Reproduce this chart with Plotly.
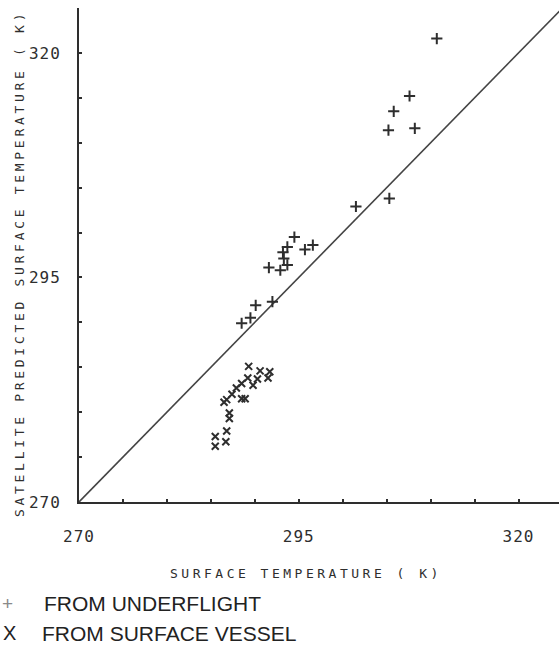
import plotly.graph_objects as go

# ---- data ----
under_x = [310.7, 307.6, 305.8, 305.2, 308.2, 301.5, 305.3, 294.5, 293.7, 293.2,
           293.3, 293.7, 292.9, 291.6, 295.7, 296.6, 290.1, 292.0, 289.5, 288.5]
under_y = [321.6, 315.2, 313.5, 311.4, 311.6, 302.9, 303.8, 299.5, 298.4, 297.8,
           297.1, 296.4, 295.8, 296.1, 298.1, 298.6, 291.9, 292.3, 290.5, 289.9]

vessel_x = [289.3, 289.2, 290.6, 290.3, 291.7, 291.5, 289.8, 288.5, 287.9, 287.4,
            286.8, 286.5, 288.5, 288.9, 287.1, 287.1, 286.8, 286.7, 285.5, 285.5]
vessel_y = [285.1, 283.8, 284.6, 283.7, 284.5, 283.8, 283.0, 283.2, 282.7, 282.0,
            281.4, 281.1, 281.5, 281.5, 279.9, 279.3, 277.9, 276.7, 277.3, 276.2]

equal_x = [270, 330]
equal_y = [270, 330]

major_ticks = [270, 295, 320]
major_labels = ["270", "295", "320"]
minor_ticks = list(range(270, 330, 5))

x_range = [270, 324.6]
y_range = [270, 325.0]

x_title = "SURFACE TEMPERATURE ( K)"
y_title = "SATELLITE PREDICTED SURFACE TEMPERATURE ( K)"
legend_under = "FROM UNDERFLIGHT"
legend_vessel = "FROM SURFACE VESSEL"

INK = "#2e2e2e"
PLOT_FONT = "DejaVu Sans Mono"


def spaced(t, px):
    return f'<span style="letter-spacing:{px}px">{t}</span>'


fig = go.Figure()
fig.add_trace(go.Scatter(x=equal_x, y=equal_y, mode="lines",
                         line=dict(color="#444", width=1.6), hoverinfo="skip"))
fig.add_trace(go.Scatter(x=under_x, y=under_y, mode="markers", name=legend_under,
                         marker=dict(symbol="cross-thin-open", size=8, color=INK,
                                     line=dict(width=2, color=INK))))
fig.add_trace(go.Scatter(x=vessel_x, y=vessel_y, mode="markers", name=legend_vessel,
                         marker=dict(symbol="x-thin-open", size=7, color=INK,
                                     line=dict(width=2, color=INK))))

axis_common = dict(showline=True, linecolor=INK, linewidth=2, showgrid=False,
                   zeroline=False, ticks="inside", ticklen=3, tickwidth=2,
                   tickcolor=INK, tickmode="array", tickvals=major_ticks,
                   ticktext=[spaced(t, 1) for t in major_labels],
                   tickfont=dict(family=PLOT_FONT, size=16, color=INK),
                   minor=dict(tickmode="array", tickvals=minor_ticks, ticks="inside",
                              ticklen=3, tickwidth=2, tickcolor=INK))

fig.update_xaxes(range=x_range, ticklabelstandoff=19, **axis_common)
fig.update_yaxes(range=y_range, ticklabelstandoff=13, **axis_common)

L, B, W, H = 79, 143, 480, 494


def px_to_paper(px, py):
    return (px - L) / W, (645 - B - py) / H


ann = []
ax, ay = px_to_paper(306, 573)
ann.append(dict(x=ax, y=ay, xref="paper", yref="paper", text=spaced(x_title, 3.5),
                showarrow=False, xanchor="center", yanchor="middle",
                font=dict(family=PLOT_FONT, size=13, color=INK)))
ax, ay = px_to_paper(19, 264)
ann.append(dict(x=ax, y=ay, xref="paper", yref="paper", text=spaced(y_title, 3.7),
                showarrow=False, xanchor="center", yanchor="middle", textangle=-90,
                font=dict(family=PLOT_FONT, size=13, color=INK)))
# legend rows
ax, ay = px_to_paper(7, 603)
ann.append(dict(x=ax, y=ay, xref="paper", yref="paper", text="+", showarrow=False,
                xanchor="center", yanchor="middle",
                font=dict(family="Liberation Sans", size=19, color="#8a8a8a")))
ax, ay = px_to_paper(42, 603)
ann.append(dict(x=ax, y=ay, xref="paper", yref="paper", text=legend_under, showarrow=False,
                xanchor="left", yanchor="middle",
                font=dict(family="Liberation Sans", size=21, color="#222")))
ax, ay = px_to_paper(9, 633)
ann.append(dict(x=ax, y=ay, xref="paper", yref="paper", text="X", showarrow=False,
                xanchor="center", yanchor="middle",
                font=dict(family="Liberation Sans", size=20, color="#222")))
ax, ay = px_to_paper(40, 633)
ann.append(dict(x=ax, y=ay, xref="paper", yref="paper", text=legend_vessel, showarrow=False,
                xanchor="left", yanchor="middle",
                font=dict(family="Liberation Sans", size=21, color="#222")))

fig.update_layout(width=559, height=645, showlegend=False,
                  margin=dict(l=L, r=0, t=8, b=B),
                  paper_bgcolor="white", plot_bgcolor="white",
                  annotations=ann)

fig.write_html("out.html")
